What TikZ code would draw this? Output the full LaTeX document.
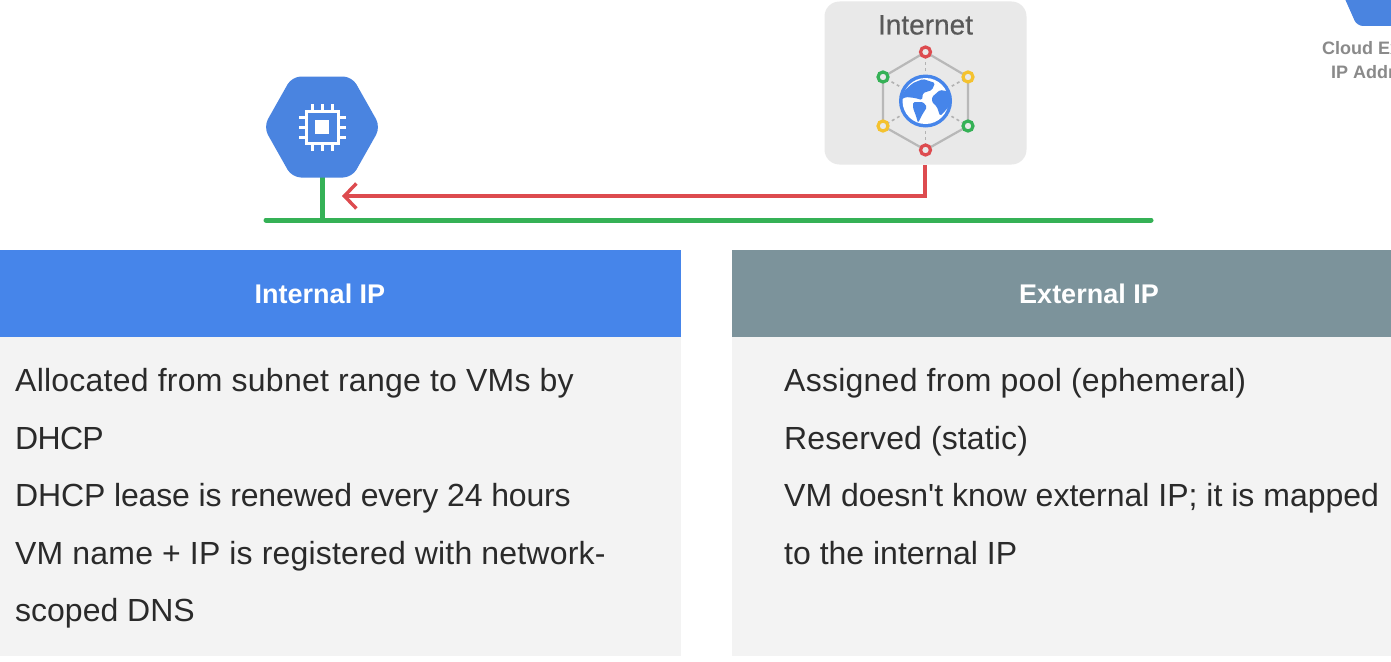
\documentclass[tikz,border=0pt]{standalone}
\usepackage{fontspec}
\setmainfont{Liberation Sans}
\newfontfamily\plainapos{Liberation Sans}
\usetikzlibrary{arrows.meta,calc}
\definecolor{gblue}{HTML}{4685EA}
\definecolor{hexblue}{HTML}{4A84E0}
\definecolor{slate}{HTML}{7C939B}
\definecolor{panel}{HTML}{F3F3F3}
\definecolor{netbox}{HTML}{E9E9E9}
\definecolor{gred}{HTML}{DD4B4F}
\definecolor{ggreen}{HTML}{35B156}
\definecolor{gyellow}{HTML}{F4C22F}
\definecolor{bodytext}{HTML}{2A2A2A}
\definecolor{greytext}{HTML}{8A8A8A}
\newcommand{\lsp}[1]{\addfontfeature{LetterSpace=#1}}
\tikzset{
  x=1pt,y=-1pt,
  head/.style={font=\fontsize{27}{30}\selectfont\bfseries,text=white,anchor=center,inner sep=0},
  body/.style={font=\fontsize{32}{36}\selectfont,text=bodytext,anchor=base west,inner sep=0},
  ring/.style={circle,draw=#1,line width=3.2pt,fill=netbox,minimum size=10pt,inner sep=0},
  hexline/.style={draw=black!28,line width=2.2pt},
  spoke/.style={draw=black!30,line width=1.6pt,dash pattern=on 3pt off 3pt},
  wire/.style={draw=ggreen,line width=5pt},
  redwire/.style={draw=gred,line width=3.4pt},
  chip/.style={draw=white,line width=3pt},
}
\begin{document}
\begin{tikzpicture}
\useasboundingbox (0,0) rectangle (1391,661);
\fill[white] (0,0) rectangle (1391,661);
% panels
\fill[panel] (0,337) rectangle (681,656);
\fill[panel] (732,337) rectangle (1391,656);
\fill[gblue] (0,250) rectangle (681,337);
\fill[slate] (732,250) rectangle (1391,337);
\node[head] (hInt) at (320,294) {Internal IP};
\node[head] (hExt) at (1089,294) {External IP};
% internal lines
\node[body] (i1) at (15,391) {\lsp{0.75}Allocated from subnet range to VMs by};
\node[body] (i2) at (15,449) {\lsp{-2.2}DHCP};
\node[body] (i3) at (15,506) {\lsp{-0.5}DHCP lease is renewed every 24 hours};
\node[body] (i4) at (15,564) {\lsp{0.6}VM name + IP is registered with network-};
\node[body] (i5) at (15,621) {scoped DNS};
% external lines
\node[body] (e1) at (784,391) {\lsp{0.8}Assigned from pool (ephemeral)};
\node[body] (e2) at (784,449) {\lsp{0.4}Reserved (static)};
\node[body] (e3) at (784,506) {VM doesn{\plainapos '}t know external IP; it is mapped};
\node[body] (e4) at (784,564) {to the internal IP};
% wires
\coordinate (busL) at (266,220);
\coordinate (busR) at (1151,220);
\coordinate (vmTap) at (322,220);
\coordinate (vmBottom) at (322,172);
\draw[wire,line cap=round] (busL) -- (busR);
\draw[wire] (vmBottom) -- (vmTap);
% VM hexagon
\fill[hexblue,rounded corners=9pt] (263.5,127) -- (292,76.5) -- (352,76.5) -- (380.5,127) -- (352,177.5) -- (292,177.5) -- cycle;
\coordinate (vm) at (322,127);
\node[minimum size=0,inner sep=0] (vmIcon) at (vm) {};
\draw[chip] (306,111) rectangle (338,143);
\fill[white] (315,120) rectangle (329,134);
\foreach \d in {-10,0,10}{
  \draw[chip] (322+\d,110) -- (322+\d,103.5);
  \draw[chip] (322+\d,144) -- (322+\d,150.5);
  \draw[chip] (305,127+\d) -- (298.5,127+\d);
  \draw[chip] (339,127+\d) -- (345.5,127+\d);
}
% Internet box
\node[fill=netbox,rounded corners=15pt,minimum width=202pt,minimum height=163pt,inner sep=0] (inet) at (925.5,83) {};
\node[font=\fontsize{28}{30}\selectfont\addfontfeature{FakeBold=0.4},text=black!65,inner sep=0] (inetLabel) at (925.5,25) {Internet};
\coordinate (n1) at (925.5,52);
\coordinate (n2) at (968,77);
\coordinate (n3) at (968,126);
\coordinate (n4) at (925.5,150);
\coordinate (n5) at (883,126);
\coordinate (n6) at (883,77);
\coordinate (gc) at (925.5,101);
\draw[hexline] (n1)--(n2)--(n3)--(n4)--(n5)--(n6)--cycle;
\foreach \n in {n1,n2,n3,n4,n5,n6}{\draw[spoke] (gc) -- (\n);}
\node[ring=gred] (r1) at (n1) {};
\node[ring=gyellow] (r2) at (n2) {};
\node[ring=ggreen] (r3) at (n3) {};
\node[ring=gred] (r4) at (n4) {};
\node[ring=gyellow] (r5) at (n5) {};
\node[ring=ggreen] (r6) at (n6) {};
% globe
\fill[netbox] (gc) circle (30);
\fill[gblue] (gc) circle (26.5);
\begin{scope}
\clip (gc) circle (26);
\fill[white] (gc) circle (23);
\fill[gblue,rounded corners=1.5pt] (900,100) -- (905,90) -- (913,83) -- (923,79) -- (935,83) -- (932,90) -- (923,93) -- (922,100) -- (915,98) -- (906,97) -- cycle;
\fill[gblue,rounded corners=1.5pt] (913,102) -- (923,102) -- (927,107) -- (922,115) -- (918,123) -- (916,116) -- (913,108) -- cycle;
\fill[gblue,rounded corners=1.5pt] (932,97) -- (940,90) -- (952,92) -- (952,102) -- (946,110) -- (940,116) -- (937,107) -- (932,102) -- cycle;
\end{scope}
% red connector
\coordinate (inetOut) at (925,165);
\coordinate (corner) at (925,196);
\coordinate (arrowEnd) at (342,196);
\draw[redwire,line join=miter,-{Straight Barb[length=12pt,width=25pt,line width=3.4pt]}] (inetOut) -- (corner) -- (arrowEnd);
% cut-off icon top right
\begin{scope}
\clip (0,0) rectangle (1391,661);
\fill[hexblue,rounded corners=6pt] (1341,-10) -- (1357,26) -- (1420,26) -- (1430,-10) -- cycle;
\node[font=\fontsize{18}{20}\selectfont\bfseries,text=greytext,anchor=base west,inner sep=0] (cl1) at (1322,55) {Cloud External};
\node[font=\fontsize{18}{20}\selectfont\bfseries,text=greytext,anchor=base west,inner sep=0] (cl2) at (1331,78) {IP Addresses};
\end{scope}
\end{tikzpicture}
\end{document}
